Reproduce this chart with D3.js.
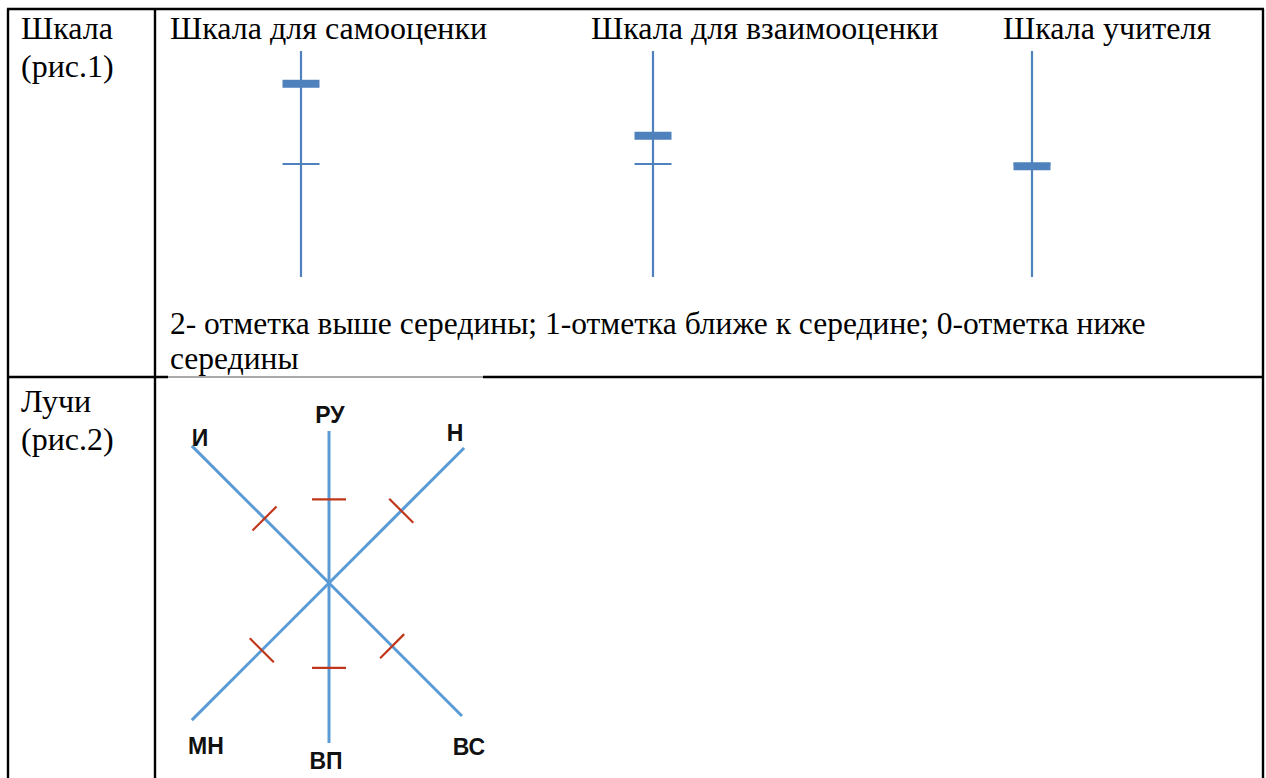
<!DOCTYPE html>
<html>
<head>
<meta charset="utf-8">
<script src="https://cdn.jsdelivr.net/npm/d3@7"></script>
<style>
  html, body { margin: 0; padding: 0; background: #fff; }
  svg { display: block; }
</style>
</head>
<body>
<div id="chart"></div>
<script>
// рис.1 — шкалы
const scaleTitles = ["Шкала для самооценки", "Шкала для взаимооценки", "Шкала учителя"];
const scaleValues = [1.71, 1.25, 0.98];
const scaleMid = 1;
const legendLines = [
    "2- отметка выше середины; 1-отметка ближе к середине; 0-отметка ниже",
    "середины"
];

// рис.2 — лучи
const rayNames = ["РУ", "Н", "ВС", "ВП", "МН", "И"];
const rayValues = [1.10, 1.07, 0.95, 1.06, 0.98, 0.94];

const rowLabels = [["Шкала", "(рис.1)"], ["Лучи", "(рис.2)"]];

const Chart = (() => {
    const width = 1266, height = 778;
    const blue = "#4F81BD", rayBlue = "#5B9BD5", red = "#C0361A";
    const serif = "'Liberation Serif', 'Times New Roman', serif";
    const sans = "'Liberation Sans', Arial, sans-serif";

    const svg = d3.select("#chart")
        .append("svg")
        .attr("width", width)
        .attr("height", height);

    // table grid
    const left = 8, col = 155, right = 1263, top = 9, rowY = 377;

    function render() {
        _table();
        _scales();
        _rays();
    }

    function _table() {
        const g = svg.append("g").attr("stroke", "#000").attr("stroke-width", 2.4);
        g.append("line").attr("x1", left - 1).attr("x2", right + 1).attr("y1", top).attr("y2", top);
        [left, col, right].forEach(x => {
            g.append("line").attr("x1", x).attr("x2", x).attr("y1", top).attr("y2", height);
        });
        // row divider, partly hidden behind the text box
        g.append("line").attr("x1", left).attr("x2", 168).attr("y1", rowY).attr("y2", rowY);
        g.append("line").attr("x1", 483).attr("x2", right).attr("y1", rowY).attr("y2", rowY);
        g.append("line").attr("x1", 168).attr("x2", 483).attr("y1", rowY).attr("y2", rowY)
            .attr("stroke", "#555").attr("stroke-width", 1);

        const rowTextY = [39, 412];
        rowLabels.forEach((lines, i) => {
            svg.append("g").selectAll("text")
                .data(lines)
                .join("text")
                .attr("x", 21)
                .attr("y", (d, j) => rowTextY[i] + j * 38)
                .attr("font-family", serif)
                .attr("font-size", 32)
                .attr("fill", "#000")
                .text(d => d);
        });
    }

    function _scales() {
        // the three columns are not evenly spaced
        const xs = [301, 653, 1032];
        const titleX = [170, 591, 1003];
        const y = d3.scaleLinear().domain([0, 2]).range([277, 51]);
        const barW = 37;

        const g = svg.append("g");
        const item = g.selectAll("g")
            .data(scaleTitles.map((t, i) => ({ title: t, value: scaleValues[i], x: xs[i], tx: titleX[i] })))
            .join("g");

        item.append("text")
            .attr("x", d => d.tx)
            .attr("y", 39)
            .attr("font-family", serif)
            .attr("font-size", 32)
            .text(d => d.title);

        item.append("line")
            .attr("x1", d => d.x).attr("x2", d => d.x)
            .attr("y1", y(0)).attr("y2", y(2))
            .attr("stroke", blue).attr("stroke-width", 2.2);

        item.append("line")
            .attr("x1", d => d.x - barW / 2).attr("x2", d => d.x + barW / 2)
            .attr("y1", y(scaleMid)).attr("y2", y(scaleMid))
            .attr("stroke", blue).attr("stroke-width", 2);

        item.append("rect")
            .attr("x", d => d.x - barW / 2)
            .attr("y", d => y(d.value) - 4)
            .attr("width", barW)
            .attr("height", 8)
            .attr("fill", blue);

        svg.append("g")
            .selectAll("text")
            .data(legendLines)
            .join("text")
            .attr("x", 170)
            .attr("y", (d, i) => 334 + i * 35)
            .attr("font-family", serif)
            .attr("font-size", 31.5)
            .attr("fill", "#000")
            .text(d => d);
    }

    function _rays() {
        const cx = 329, cy = 583;
        const angles = { "РУ": 90, "Н": 45, "ВС": -45, "ВП": -90, "МН": -135, "И": 135 };
        const lens = { "РУ": 152, "Н": 191, "ВС": 188, "ВП": 160, "МН": 194, "И": 194 };
        const labelPos = {
            "РУ": [330, 423], "Н": [455, 441], "ВС": [469, 755],
            "ВП": [326, 769], "МН": [206, 754], "И": [200, 446]
        };
        const tickHalf = 17;

        const data = rayNames.map((name, i) => {
            const a = angles[name] * Math.PI / 180;
            const r = d3.scaleLinear().domain([0, 2]).range([0, lens[name]]);
            return { name, value: rayValues[i], r, dx: Math.cos(a), dy: -Math.sin(a) };
        });

        const g = svg.append("g");
        g.selectAll("line.ray")
            .data(data)
            .join("line")
            .attr("class", "ray")
            .attr("x1", cx).attr("y1", cy)
            .attr("x2", d => cx + d.dx * d.r(2))
            .attr("y2", d => cy + d.dy * d.r(2))
            .attr("stroke", rayBlue)
            .attr("stroke-width", 3);

        g.selectAll("line.mark")
            .data(data)
            .join("line")
            .attr("class", "mark")
            .attr("x1", d => cx + d.dx * d.r(d.value) - d.dy * tickHalf)
            .attr("y1", d => cy + d.dy * d.r(d.value) + d.dx * tickHalf)
            .attr("x2", d => cx + d.dx * d.r(d.value) + d.dy * tickHalf)
            .attr("y2", d => cy + d.dy * d.r(d.value) - d.dx * tickHalf)
            .attr("stroke", red)
            .attr("stroke-width", 2.2);

        g.selectAll("text")
            .data(data)
            .join("text")
            .attr("x", d => labelPos[d.name][0])
            .attr("y", d => labelPos[d.name][1])
            .attr("text-anchor", "middle")
            .attr("font-family", sans)
            .attr("font-weight", "bold")
            .attr("font-size", 23)
            .attr("fill", "#111")
            .text(d => d.name);
    }

    return { render };
})();

Chart.render();
</script>
</body>
</html>
